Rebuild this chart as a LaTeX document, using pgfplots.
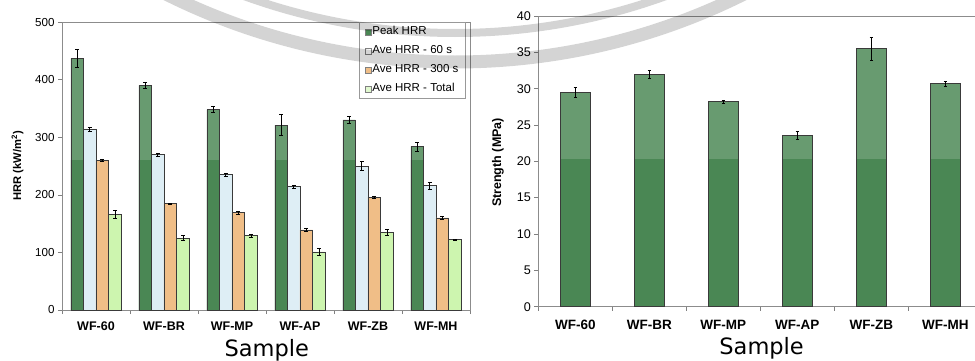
\documentclass[border=0pt]{standalone}
\usepackage{pgfplots}
\usepackage{pgfplotstable}
\pgfplotsset{compat=1.18}
\usepackage{fontspec}
\setmainfont{Liberation Sans}
\newfontfamily\samplefont{DejaVu Sans}
\definecolor{gDark}{HTML}{4A8754}
\definecolor{gLight}{HTML}{689B70}
\definecolor{cBlue}{HTML}{DEEEF5}
\definecolor{cOrange}{HTML}{F0BE87}
\definecolor{cLGreen}{HTML}{CDF5AF}
\definecolor{edge}{HTML}{3A3A3A}

\pgfplotstableread{
x peak peakerr dark s60 s60err s300 s300err tot toterr
0 437 15 260 314 3 260 1 166 7
1 390 5 260 270 3 185 1 125 4
2 348 5 260 235 3 169 2 129 2
3 321 18 260 214 3 139 3 101 6
4 330 6 260 250 8 196 2 135 6
5 284 8 260 216 6 160 3 122 1
}\hrrdata

\pgfplotstableread{
x s err dark
0 29.5 0.7 20.3
1 32.0 0.5 20.3
2 28.2 0.2 20.3
3 23.6 0.5 20.3
4 35.5 1.6 20.3
5 30.7 0.3 20.3
}\strdata

\pgfplotsset{
  base/.style={
    scale only axis,
    ybar,
    tick align=outside,
    xtick pos=bottom, ytick pos=left,
    major tick length=4pt,
    tick style={draw=gray, line width=0.6pt},
    axis line style={draw=gray!90, line width=0.7pt},
    xmin=-0.5, xmax=5.5,
    xtick={-0.5,0.5,...,5.5},
    x tick label as interval,
    xticklabels={WF-60,WF-BR,WF-MP,WF-AP,WF-ZB,WF-MH},
    /pgf/number format/assume math mode=true,
    error bars/error bar style={draw=black, line width=0.5pt},
    error bars/error mark options={rotate=90, mark size=1.8pt, draw=black, line width=0.5pt},
    legend image code/.code={\draw[#1,line width=0.5pt] (0pt,-3pt) rectangle (6pt,3pt);},
  },
}

\begin{document}
\begin{tikzpicture}[x=1pt,y=1pt]

% ---------------- Left panel ----------------
\begin{axis}[base,
  at={(62pt,50pt)}, anchor=south west,
  width=408pt, height=288pt,
  ymin=0, ymax=500, ytick={0,100,...,500},
  bar width=0.185,
  yticklabel style={font=\fontsize{11.6}{13}\selectfont},
  xticklabel style={font=\bfseries\fontsize{12.5}{14}\selectfont, yshift=-4.5pt},
  ylabel={\bfseries HRR (kW/m\textsuperscript{2})},
  ylabel style={font=\fontsize{11.2}{13}\selectfont, at={(axis description cs:-0.109,0.5)}, anchor=center},
  xlabel={\samplefont Sample},
  xlabel style={font=\fontsize{22.5}{26}\selectfont, at={(axis description cs:0.502,-0.16)}, anchor=base},
  legend style={at={(0.9895,1)}, anchor=north east, draw=gray!80, line width=0.6pt,
    font=\fontsize{11.5}{13}\selectfont, legend cell align=left,
    inner xsep=6pt, inner ysep=3pt, row sep=6pt, column sep=0pt,
    nodes={inner sep=1pt, text height=8.5pt, text depth=2.5pt}},
]
\addplot[fill=gLight, draw=none, bar shift=-0.2775, forget plot] table[x=x, y=peak] {\hrrdata};
\addplot[fill=gDark, draw=none, bar shift=-0.2775, forget plot] table[x=x, y=dark] {\hrrdata};
\addplot[fill=none, draw=edge, line width=0.6pt, bar shift=-0.2775, forget plot,
  error bars/.cd, y dir=both, y explicit] table[x=x, y=peak, y error=peakerr] {\hrrdata};
\addplot[fill=cBlue, draw=edge, line width=0.6pt, bar shift=-0.0925, forget plot,
  error bars/.cd, y dir=both, y explicit] table[x=x, y=s60, y error=s60err] {\hrrdata};
\addplot[fill=cOrange, draw=edge, line width=0.6pt, bar shift=0.0925, forget plot,
  error bars/.cd, y dir=both, y explicit] table[x=x, y=s300, y error=s300err] {\hrrdata};
\addplot[fill=cLGreen, draw=edge, line width=0.6pt, bar shift=0.2775, forget plot,
  error bars/.cd, y dir=both, y explicit] table[x=x, y=tot, y error=toterr] {\hrrdata};
\addlegendimage{fill=gDark, draw=gray}
\addlegendimage{fill=white, draw=gray}
\addlegendimage{fill=cOrange, draw=gray}
\addlegendimage{fill=cLGreen!60!white, draw=gray}
\legend{Peak HRR, Ave HRR - 60 s, Ave HRR - 300 s, Ave HRR - Total}
\end{axis}

% ---------------- Right panel ----------------
\begin{axis}[base,
  at={(538.3pt,53.3pt)}, anchor=south west,
  width=444pt, height=290.7pt,
  ymin=0, ymax=40, ytick={0,5,...,40},
  bar width=0.4,
  yticklabel style={font=\fontsize{12.6}{14}\selectfont},
  xticklabel style={font=\bfseries\fontsize{13.5}{15}\selectfont, yshift=-5.5pt},
  ylabel={\bfseries Strength (MPa)},
  ylabel style={font=\fontsize{12.5}{14}\selectfont, at={(axis description cs:-0.091,0.496)}, anchor=center},
  xlabel={\samplefont Sample},
  xlabel style={font=\fontsize{22.5}{26}\selectfont, at={(axis description cs:0.503,-0.166)}, anchor=base},
]
\addplot[fill=gLight, draw=none, bar shift=0, forget plot] table[x=x, y=s] {\strdata};
\addplot[fill=gDark, draw=none, bar shift=0, forget plot] table[x=x, y=dark] {\strdata};
\addplot[fill=none, draw=edge, line width=0.6pt, bar shift=0, forget plot,
  error bars/.cd, y dir=both, y explicit] table[x=x, y=s, y error=err] {\strdata};
\end{axis}

% ---------------- faint watermark rings ----------------
\draw[black, opacity=0.17, line width=13pt] (455pt,945pt) circle[radius=647pt];
\draw[black, opacity=0.17, line width=8pt] (455pt,945pt) circle[radius=618pt];

\pgfresetboundingbox
\useasboundingbox (0pt,0pt) rectangle (975pt,360pt);
\end{tikzpicture}
\end{document}
